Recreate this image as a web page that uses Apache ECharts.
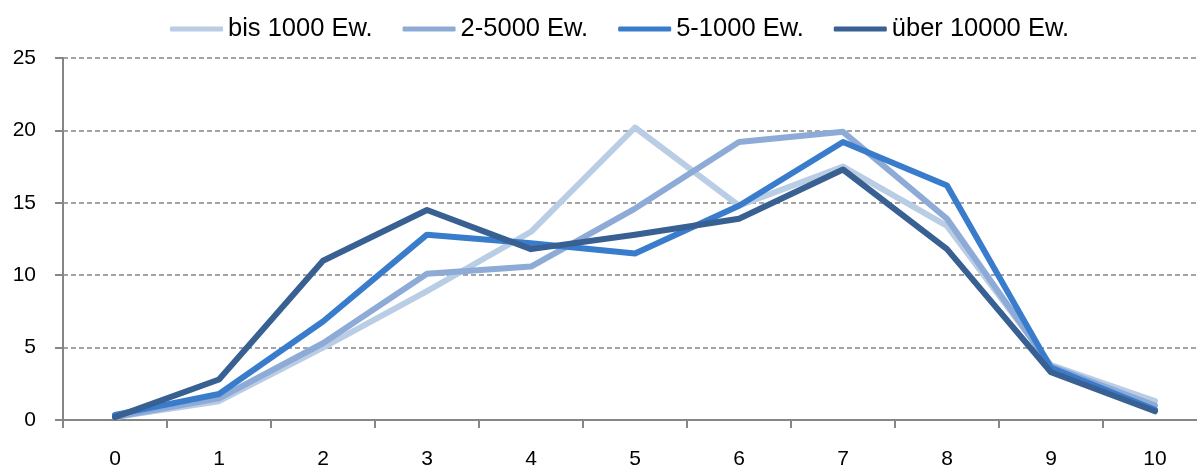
<!DOCTYPE html>
<html><head><meta charset="utf-8">
<script src="https://cdn.jsdelivr.net/npm/echarts@6/dist/echarts.min.js"></script>
<style>html,body{margin:0;padding:0;background:#fff;overflow:hidden;width:1197px;height:471px}#c{width:1207px;height:471px}</style>
</head><body><div id="c"></div>
<script>
const categories = ['0','1','2','3','4','5','6','7','8','9','10'];
const seriesNames = ['bis 1000 Ew.', '2-5000 Ew.', '5-1000 Ew.', 'über 10000 Ew.'];
const bis1000 = [0.2, 1.3, 5.0, 8.9, 13.0, 20.2, 14.8, 17.5, 13.4, 3.8, 1.3];
const s2_5000 = [0.2, 1.5, 5.3, 10.1, 10.6, 14.6, 19.2, 19.9, 13.9, 3.7, 1.0];
const s5_1000 = [0.35, 1.8, 6.8, 12.8, 12.2, 11.5, 14.8, 19.2, 16.2, 3.6, 0.7];
const ueber10000 = [0.2, 2.8, 11.0, 14.5, 11.8, 12.8, 13.9, 17.3, 11.8, 3.3, 0.6];
const colors = ['#B9CDE5', '#8DABD6', '#3A7CCC', '#386092'];
const yTicks = {min: 0, max: 25, interval: 5};

const chart = echarts.init(document.getElementById('c'));
const dataSets = [bis1000, s2_5000, s5_1000, ueber10000];
chart.setOption({
  animation: false,
  textStyle: {fontFamily: 'Liberation Sans, Arial, sans-serif'},
  legend: {
    top: 11, left: 165,
    itemWidth: 53, itemHeight: 5, itemGap: 30,
    icon: 'roundRect',
    textStyle: {fontSize: 25.5, color: '#000'},
    data: seriesNames
  },
  grid: {left: 63, top: 58, right: 0, bottom: 51},
  xAxis: {
    type: 'category', data: categories, boundaryGap: true,
    axisLine: {lineStyle: {color: '#868686', width: 2}},
    axisTick: {show: true, length: 8, lineStyle: {color: '#868686', width: 2}},
    axisLabel: {fontSize: 21, color: '#000', margin: 29}
  },
  yAxis: {
    type: 'value', min: yTicks.min, max: yTicks.max, interval: yTicks.interval,
    axisLine: {show: true, lineStyle: {color: '#868686', width: 2}},
    axisTick: {show: true, length: 8, lineStyle: {color: '#868686', width: 2}},
    axisLabel: {fontSize: 21, color: '#000', margin: 27},
    splitLine: {lineStyle: {color: '#868686', type: [5, 3], width: 1.5}}
  },
  series: dataSets.map((d, i) => ({
    name: seriesNames[i], type: 'line', data: d,
    symbol: 'none', color: colors[i],
    lineStyle: {width: 6, color: colors[i], cap: 'round', join: 'round'}
  }))
});
</script></body></html>
